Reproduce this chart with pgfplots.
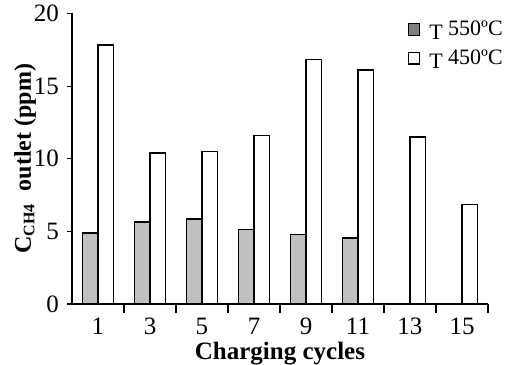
\documentclass[border=0pt]{standalone}
\usepackage{fontspec}
\setmainfont{Liberation Serif}
\usepackage{pgfplots}
\pgfplotsset{compat=1.18}
\definecolor{barg}{HTML}{C0C0C0}
\definecolor{legg}{HTML}{808080}
\begin{document}
\begin{tikzpicture}
\begin{axis}[
  scale only axis, width=208pt, height=145.25pt,
  xmin=-0.5, xmax=7.5, ymin=0, ymax=20,
  clip=false,
  axis x line=bottom, axis y line=left,
  axis line style={-, line width=1pt},
  xtick={0,...,7}, xticklabels={1,3,5,7,9,11,13,15},
  major x tick style={draw=none},
  minor xtick={0.5,1.5,...,7.5},
  minor x tick style={line width=0.6pt, black},
  minor tick length=4.5pt,
  ytick={0,5,10,15,20},
  major y tick style={line width=0.6pt, black},
  major tick length=2.5pt,
  tick align=outside,
  /pgf/number format/assume math mode=true,
  tick label style={font=\fontsize{12.5}{14}\selectfont},
  xticklabel style={yshift=-1pt},
  yticklabel style={xshift=-0.5pt},
  xlabel={\textbf{Charging cycles}},
  xlabel style={at={(axis description cs:0.5,-0.13)}, anchor=north, inner sep=0pt, font=\fontsize{12.5}{14}\selectfont},
  ylabel={\textbf{C\textsubscript{CH4}\ \ outlet (ppm)}},
  ylabel style={at={(axis description cs:-0.113,0.5)}, anchor=center, inner sep=0pt, font=\fontsize{12}{14}\selectfont},
  ybar, bar width=0.295,
  legend style={at={(axis description cs:1.046,0.99)}, anchor=north east, draw=none, fill=none,
    font=\fontsize{11}{13}\selectfont, row sep=1.5pt, inner sep=0pt},
  legend cell align=left,
]
\addplot[fill=barg, draw=black, line width=0.75pt, forget plot, bar shift=-0.1475] coordinates {(0,4.89) (1,5.64) (2,5.85) (3,5.14) (4,4.77) (5,4.54) (6,0) (7,0)};
\addplot[fill=white, draw=black, line width=0.75pt, forget plot, bar shift=0.1475] coordinates {(0,17.84) (1,10.39) (2,10.50) (3,11.60) (4,16.83) (5,16.12) (6,11.51) (7,6.86)};
\addlegendimage{legend image code/.code={\draw[fill=legg, draw=black, line width=0.6pt] (0pt,-2.9pt) rectangle (5.8pt,2.9pt);}}
\addlegendentry{\hspace*{2.5pt}\raisebox{-2pt}{T} 550ºC}
\addlegendimage{legend image code/.code={\draw[fill=white, draw=black, line width=0.6pt] (0pt,-2.9pt) rectangle (5.8pt,2.9pt);}}
\addlegendentry{\hspace*{2.5pt}\raisebox{-2pt}{T} 450ºC}
\end{axis}
\pgfresetboundingbox
\path[use as bounding box] (-36pt,-30pt) rectangle (217.5pt,152pt);
\end{tikzpicture}
\end{document}
